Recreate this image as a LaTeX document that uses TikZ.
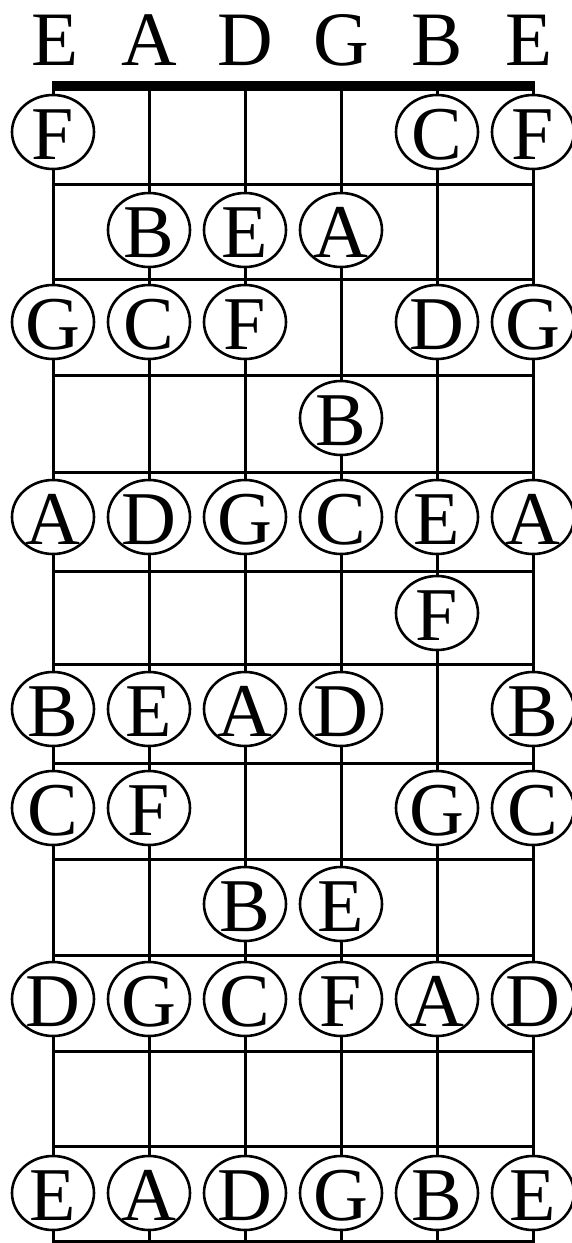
\documentclass[tikz,border=0pt]{standalone}
\usepackage{fontspec}
\setmainfont{Liberation Serif}
\usetikzlibrary{shapes.geometric}
\begin{document}
\begin{tikzpicture}[x=1pt,y=-1pt,
  stringline/.style={line width=3pt, draw=black},
  fretline/.style={line width=3pt, draw=black},
  nutbar/.style={fill=black, draw=none},
  notering/.style={ellipse, draw=black, line width=2.6pt, fill=white,
    minimum width=82pt, minimum height=74pt, inner sep=0pt},
  notetext/.style={anchor=base, inner sep=0pt, font=\fontsize{76}{76}\selectfont},
  headtext/.style={anchor=base, inner sep=0pt, font=\fontsize{77}{77}\selectfont}]
\useasboundingbox (0,0) rectangle (571,1243);
% strings
\foreach \s in {1,...,6}{
  \coordinate (s\s top) at ({53+96*(\s-1)},86);
  \coordinate (s\s bot) at ({53+96*(\s-1)},1243);
  \draw[stringline] (s\s top) -- (s\s bot);
}
% frets
\foreach \k/\y in {1/184,2/279,3/375,4/472,5/571,6/664,7/763,8/859,9/955,10/1051,11/1146,12/1241}{
  \coordinate (f\k L) at (53,\y);
  \coordinate (f\k R) at (533,\y);
  \draw[fretline] (f\k L) -- (f\k R);
}
% nut
\coordinate (nutL) at (51.5,81);
\coordinate (nutR) at (534.5,91);
\fill[nutbar] (nutL) rectangle (nutR);
% open string names
\foreach \s/\x/\n in {1/55/E,2/149/A,3/245/D,4/341/G,5/437/B,6/529/E}{
  \node[headtext] (h\s) at (\x,65) {\n};
}
% notes
\foreach \r/\y/\notes in {
  1/132/{1/F,5/C,6/F},
  2/230/{2/B,3/E,4/A},
  3/322/{1/G,2/C,3/F,5/D,6/G},
  4/418/{4/B},
  5/517/{1/A,2/D,3/G,4/C,5/E,6/A},
  6/613/{5/F},
  7/709/{1/B,2/E,3/A,4/D,6/B},
  8/808/{1/C,2/F,5/G,6/C},
  9/904/{3/B,4/E},
  10/999/{1/D,2/G,3/C,4/F,5/A,6/D},
  12/1193/{1/E,2/A,3/D,4/G,5/B,6/E}}{
  \foreach \s/\n in \notes {
    \node[notering] (n\r-\s) at ({53+96*(\s-1)},\y) {};
    \node[notetext] (t\r-\s) at ([yshift=-27pt]n\r-\s.center) {\n};
  }
}
\end{tikzpicture}
\end{document}
